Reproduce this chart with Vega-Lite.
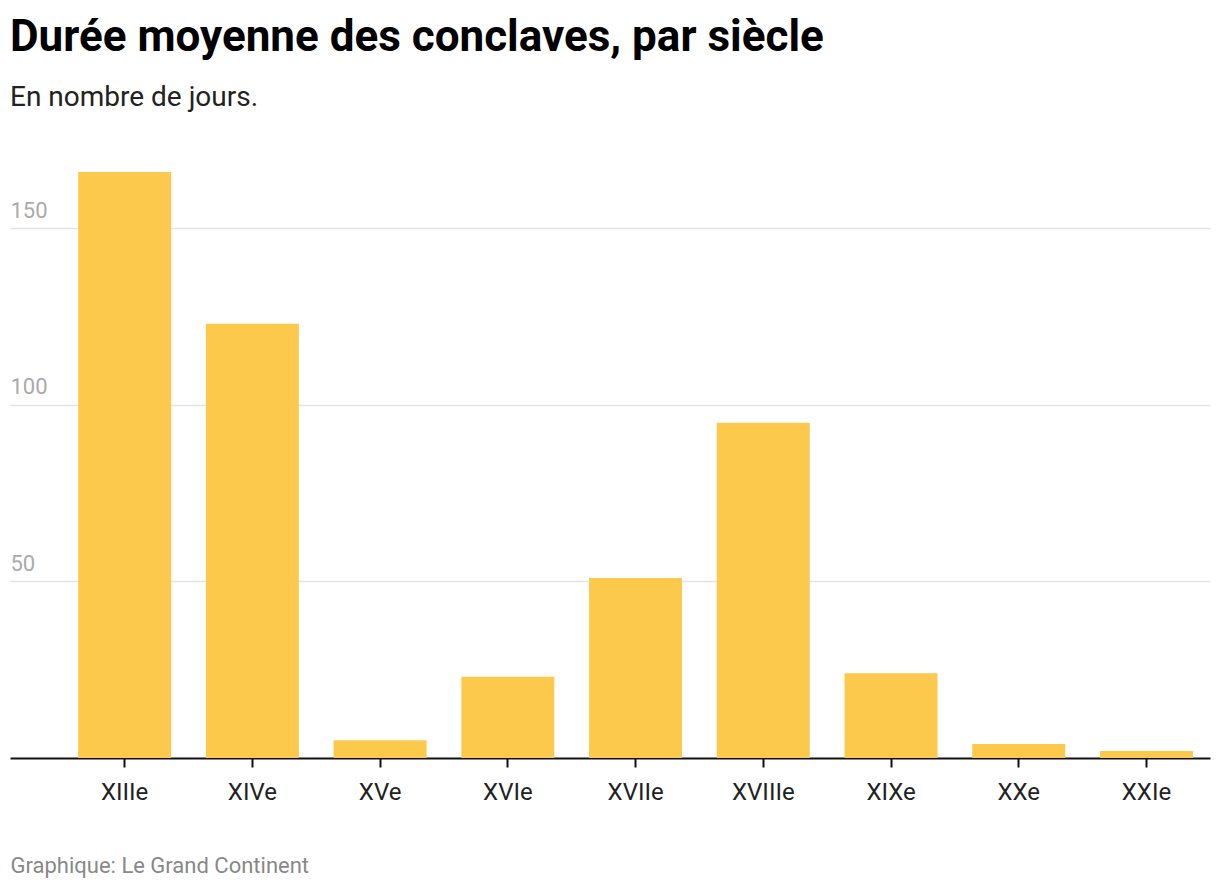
{
  "$schema": "https://vega.github.io/schema/vega-lite/v6.json",
  "width": 1200,
  "height": 586,
  "autosize": {"type": "none"},
  "padding": {"left": 10, "top": 172, "right": 10, "bottom": 130},
  "background": "white",
  "title": {
    "text": "Durée moyenne des conclaves, par siècle",
    "subtitle": "En nombre de jours.",
    "anchor": "start",
    "frame": "group",
    "font": "Roboto",
    "fontSize": 44,
    "fontWeight": "bold",
    "color": "#000000",
    "subtitleFont": "Roboto",
    "subtitleFontSize": 28,
    "subtitleColor": "#222222",
    "subtitlePadding": 24,
    "offset": 60
  },
  "data": {
    "values": [
      {"siecle": "XIIIe", "jours": 166},
      {"siecle": "XIVe", "jours": 123},
      {"siecle": "XVe", "jours": 5},
      {"siecle": "XVIe", "jours": 23},
      {"siecle": "XVIIe", "jours": 51},
      {"siecle": "XVIIIe", "jours": 95},
      {"siecle": "XIXe", "jours": 24},
      {"siecle": "XXe", "jours": 4},
      {"siecle": "XXIe", "jours": 2}
    ]
  },
  "mark": {"type": "bar", "color": "#fdc94d"},
  "encoding": {
    "x": {
      "field": "siecle",
      "type": "nominal",
      "sort": null,
      "scale": {"paddingInner": 0.272, "paddingOuter": 0.3335, "align": 0.8},
      "axis": {
        "title": "Graphique: Le Grand Continent",
        "titleFont": "Roboto",
        "titleFontSize": 22,
        "titleFontWeight": "normal",
        "titleColor": "#888888",
        "titleAnchor": "start",
        "titleAlign": "left",
        "titleBaseline": "alphabetic",
        "titleX": 0,
        "titleY": 114,
        "labelAngle": 0,
        "labelFont": "Roboto",
        "labelFontSize": 24,
        "labelColor": "#222222",
        "labelPadding": 13,
        "domain": true,
        "domainColor": "#111111",
        "domainWidth": 2,
        "ticks": true,
        "tickColor": "#111111",
        "tickWidth": 2,
        "tickSize": 9,
        "grid": false
      }
    },
    "y": {
      "field": "jours",
      "type": "quantitative",
      "scale": {"domain": [0, 166], "nice": false},
      "axis": {
        "title": null,
        "values": [50, 100, 150],
        "domain": false,
        "ticks": false,
        "tickSize": 0,
        "labelAlign": "left",
        "labelBaseline": "alphabetic",
        "labelPadding": 0,
        "labelOffset": -11,
        "labelFont": "Roboto",
        "labelFontSize": 22,
        "labelColor": "#aaaaaa",
        "grid": true,
        "gridColor": "#e3e3e3",
        "gridWidth": 1.5
      }
    }
  },
  "config": {
    "view": {"stroke": null},
    "font": "Roboto"
  }
}
